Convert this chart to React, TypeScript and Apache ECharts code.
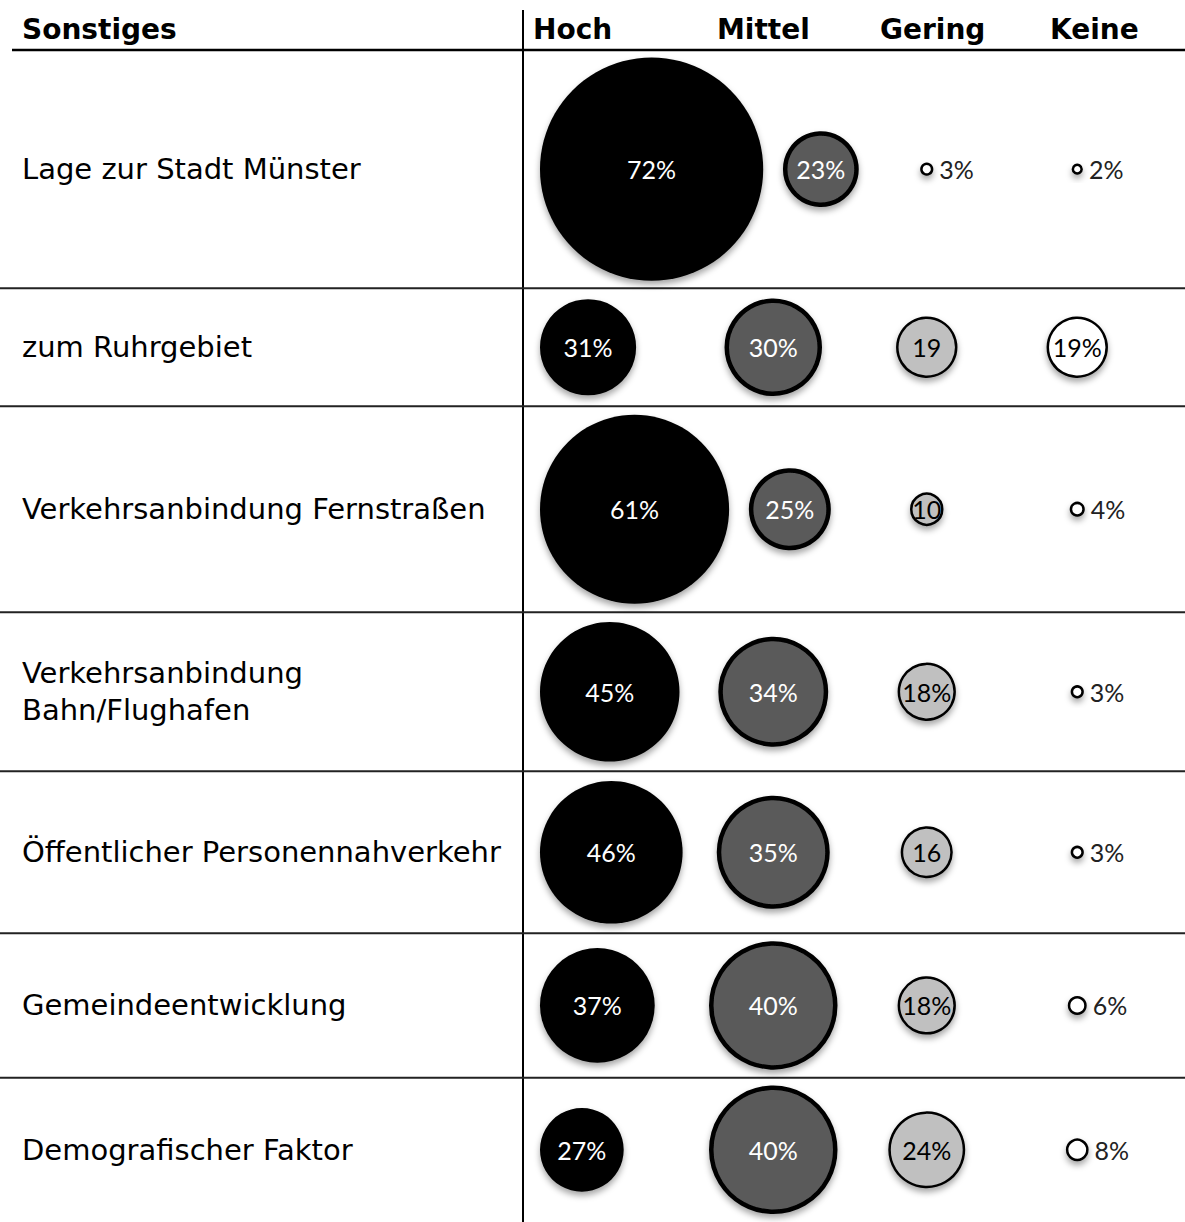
import React, { useEffect, useRef } from "react";
import * as echarts from "echarts";

const headerTitle = "Sonstiges";
const columns = ["Hoch", "Mittel", "Gering", "Keine"];
const rowLabels = [
  "Lage zur Stadt Münster",
  "zum Ruhrgebiet",
  "Verkehrsanbindung Fernstraßen",
  "Verkehrsanbindung\nBahn/Flughafen",
  "Öffentlicher Personennahverkehr",
  "Gemeindeentwicklung",
  "Demografischer Faktor",
];
const hoch = [72, 31, 61, 45, 46, 37, 27];
const mittel = [23, 30, 25, 34, 35, 40, 40];
const gering = [3, 19, 10, 18, 16, 18, 24];
const keine = [2, 19, 4, 3, 3, 6, 8];
const hochLabels = ["72%", "31%", "61%", "45%", "46%", "37%", "27%"];
const mittelLabels = ["23%", "30%", "25%", "34%", "35%", "40%", "40%"];
const geringLabels = ["3%", "19", "10", "18%", "16", "18%", "24%"];
const keineLabels = ["2%", "19%", "4%", "3%", "3%", "6%", "8%"];

const colValues = [hoch, mittel, gering, keine];
const colLabels = [hochLabels, mittelLabels, geringLabels, keineLabels];

const colStyles = [
  { fill: "#000000", border: "#000000", bw: 0, text: "#ffffff", shift: 0 },
  { fill: "#5a5a5a", border: "#000000", bw: 4.5, text: "#ffffff", shift: 2 },
  { fill: "#c0c0c0", border: "#000000", bw: 2.5, text: "#000000", shift: -10 },
  { fill: "#ffffff", border: "#000000", bw: 2.5, text: "#000000", shift: -25 },
];

const diam = (v: number) => (v >= 10 ? 3.1 * v : 5 + 1.9 * v);

export default function App() {
  const ref = useRef<HTMLDivElement>(null);
  useEffect(() => {
    document.body.style.margin = "0";
    const chart = echarts.init(ref.current!, null, { renderer: "svg" });

    const rowMax = rowLabels.map((_, i) => Math.max(hoch[i], mittel[i], gering[i], keine[i]));
    const rowH = rowMax.map((m) => 2.94 * m + 27);
    const bounds: number[] = [0];
    rowH.forEach((h) => bounds.push(bounds[bounds.length - 1] + h));
    const total = bounds[bounds.length - 1];
    const centers = rowH.map((h, i) => bounds[i] + h / 2);

    const gridLeft = 523;
    const bandW = (1185 - gridLeft) / 4;
    const hochLeft = 540;
    const bandCenter = (ci: number) => gridLeft + bandW * (ci + 0.5);

    const scatterSeries = columns.map((col, ci) => {
      const st = colStyles[ci];
      return {
        type: "scatter",
        name: col,
        clip: false,
        z: 3,
        data: colValues[ci].map((v, ri) => {
          const d = diam(v);
          const small = v < 10;
          let offX = st.shift;
          if (ci === 0) {
            offX = hochLeft + d / 2 - bandCenter(0);
          } else if (ci === 1) {
            const hochRight = hochLeft + diam(hoch[ri]);
            const cx = Math.max(bandCenter(1) + st.shift, hochRight + 22 + d / 2);
            offX = cx - bandCenter(1);
          }
          return {
            value: [ci, centers[ri]],
            symbolSize: d,
            symbolOffset: [offX, 0],
            itemStyle: {
              opacity: 1,
              color: small ? "#ffffff" : st.fill,
              borderColor: st.border,
              borderWidth: small ? 2.5 : st.bw,
              shadowBlur: 6,
              shadowOffsetY: 4,
              shadowColor: "rgba(0,0,0,0.35)",
            },
            label: {
              show: true,
              formatter: colLabels[ci][ri],
              position: small ? "right" : "inside",
              distance: 6,
              color: small ? "#222" : st.text,
              fontFamily: "Lato",
              fontSize: 25,
            },
          };
        }),
      };
    });

    const frameSeries = {
      type: "custom",
      z: 1,
      clip: false,
      encode: { x: 0, y: 1 },
      data: rowLabels.map((_, i) => [0, centers[i], bounds[i + 1]]),
      renderItem: (params: any, api: any) => {
        const i = params.dataIndex;
        const c = api.coord([0, api.value(1)]);
        const b = api.coord([0, api.value(2)]);
        const children: any[] = [
          {
            type: "text",
            style: {
              x: 22,
              y: c[1],
              text: rowLabels[i],
              fill: "#000",
              fontSize: 29,
              fontFamily: "DejaVu Sans",
              lineHeight: 37,
              verticalAlign: "middle",
              align: "left",
            },
          },
        ];
        if (i < rowLabels.length - 1) {
          children.push({
            type: "line",
            shape: { x1: 0, y1: b[1], x2: 1185, y2: b[1] },
            style: { stroke: "#222", lineWidth: 2 },
          });
        }
        return { type: "group", children };
      },
    };

    const headerX = [533, 717, 880, 1050];
    const headerFont = {
      fill: "#000",
      fontSize: 28,
      fontWeight: "bold",
      fontFamily: "DejaVu Sans",
      verticalAlign: "top",
    };

    chart.setOption({
      animation: false,
      backgroundColor: "#ffffff",
      grid: { left: gridLeft, right: 0, top: 50, bottom: 0 },
      xAxis: { type: "category", data: columns, show: false },
      yAxis: { type: "value", inverse: true, min: 0, max: total, show: false },
      graphic: [
        { type: "text", left: 22, top: 15, style: { ...headerFont, text: headerTitle } },
        ...columns.map((c, i) => ({
          type: "text",
          left: headerX[i],
          top: 15,
          style: { ...headerFont, text: c },
        })),
        {
          type: "line",
          shape: { x1: 12, y1: 50, x2: 1185, y2: 50 },
          style: { stroke: "#000", lineWidth: 2.5 },
        },
        {
          type: "line",
          shape: { x1: 523, y1: 10, x2: 523, y2: 1222 },
          style: { stroke: "#000", lineWidth: 2 },
        },
      ],
      series: [frameSeries, ...scatterSeries],
    });
    return () => chart.dispose();
  }, []);
  return <div ref={ref} style={{ width: 1185, height: 1222 }} />;
}
